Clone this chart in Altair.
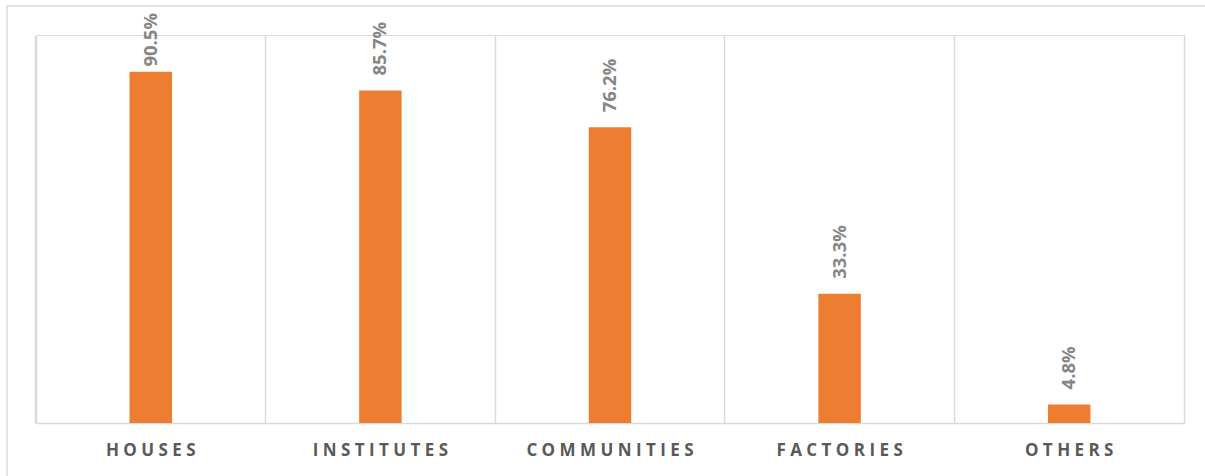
import altair as alt
import pandas as pd

categories = ["HOUSES", "INSTITUTES", "COMMUNITIES", "FACTORIES", "OTHERS"]
values = [90.5, 85.7, 76.2, 33.3, 4.8]

df = pd.DataFrame({"category": categories, "value": values})

W, H = 1148, 388
FONT = "Open Sans"
GRID = "#d9d9d9"
P_IN, P_OUT = 0.815, 0.4075
GRID_POS = -P_OUT / (1 - P_IN)

xenc = alt.X(
    "category:N",
    sort=categories,
    scale=alt.Scale(paddingInner=P_IN, paddingOuter=P_OUT),
    axis=alt.Axis(
        title=None, labelAngle=0, ticks=False, domainColor=GRID, domainWidth=1.5,
        grid=True, bandPosition=GRID_POS, gridColor=GRID, gridWidth=1.5,
        labelFont=FONT, labelFontSize=17, labelFontWeight="bold", labelColor="#595959",
        labelPadding=19,
        labelExpr="join(split(datum.label, ''), ' ')",
    ),
)
yscale = alt.Scale(domain=[0, 100])

base = alt.Chart(df)

bars = base.mark_bar(color="#ED7D31").encode(
    x=xenc,
    y=alt.Y("value:Q", scale=yscale,
            axis=alt.Axis(title=None, labels=False, ticks=False, grid=False,
                          domain=True, domainColor=GRID, domainWidth=1.5)),
)

# Labels sit above the bars but are kept inside the chart area (as the source does)
labels = base.transform_calculate(
    label="format(datum.value, '.1f') + '%'",
    pos="min(datum.value, 88.0)",
).mark_text(
    angle=270, align="left", baseline="middle", dx=15,
    font=FONT, fontSize=18.5, fontWeight="bold", color="#858585",
).encode(
    x=xenc,
    y=alt.Y("pos:Q", scale=yscale,
            axis=alt.Axis(title=None, orient="right", labels=False, ticks=False, grid=False,
                          domain=True, domainColor=GRID, domainWidth=1.5)),
    text="label:N",
)

frame = alt.Chart(pd.DataFrame({"k": [0]})).mark_rect(
    fill=None, stroke=GRID, strokeWidth=1.5
).encode(
    x=alt.value(-29), x2=alt.value(W + 60),
    y=alt.value(-29), y2=alt.value(H + 80),
)

chart = alt.layer(frame, bars, labels).resolve_axis(y="independent").properties(
    width=W, height=H,
    autosize=alt.AutoSizeParams(type="none"),
    padding={"left": 36, "top": 35, "right": 21, "bottom": 53},
).configure_view(stroke=None).configure(background="white")

chart.save("out.html", embed_options={"renderer": "svg", "actions": False})
